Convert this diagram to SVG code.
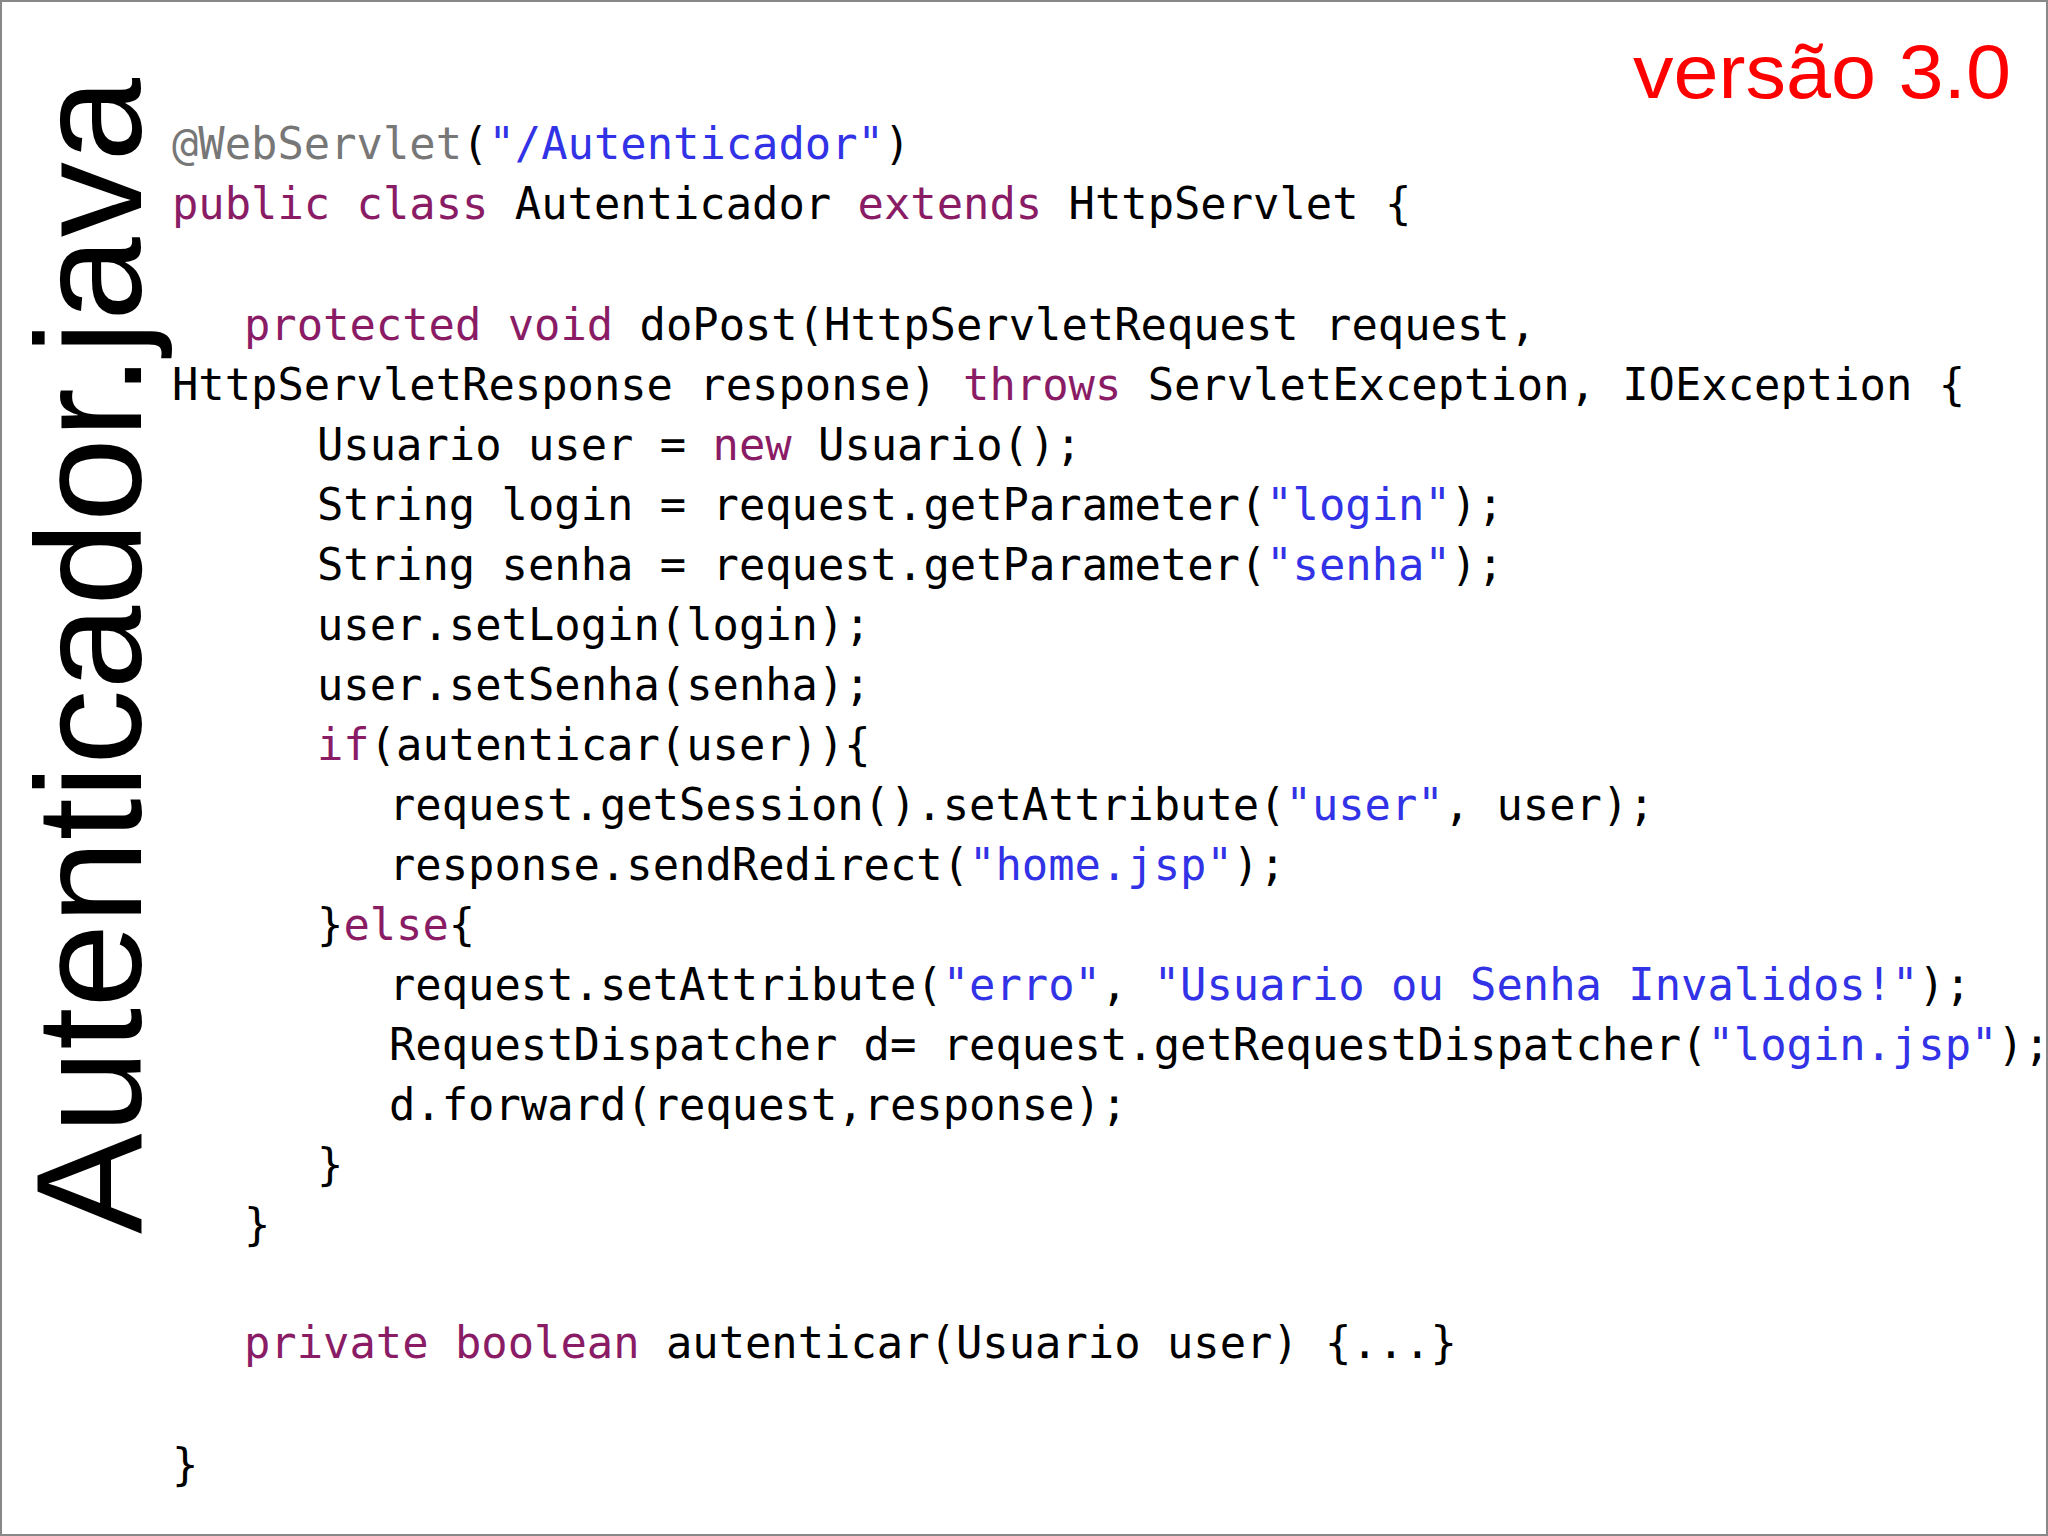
<svg xmlns="http://www.w3.org/2000/svg" width="2048" height="1536" viewBox="0 0 2048 1536">
<style>
.c{font-family:"DejaVu Sans Mono","Liberation Mono",monospace;font-size:43.8px;fill:#000}
.k{fill:#8a1c66}.s{fill:#3232e6}.a{fill:#777}
</style>
<rect x="1" y="1" width="2046" height="1534" fill="#fff" stroke="#888" stroke-width="2"/>
<text x="2011" y="98" font-family="Liberation Sans,sans-serif" font-size="76" fill="#f00" text-anchor="end" textLength="378" lengthAdjust="spacingAndGlyphs">versão 3.0</text>
<text transform="translate(141,1234) rotate(-90)" font-family="Liberation Sans,sans-serif" font-size="150" textLength="1156" lengthAdjust="spacingAndGlyphs">Autenticador.java</text>
<g id="code" class="c" xml:space="preserve">
<text x="172" y="159"><tspan class="a">@WebServlet</tspan>(<tspan class="s">"/Autenticador"</tspan>)</text>
<text x="172" y="219"><tspan class="k">public class</tspan> Autenticador <tspan class="k">extends</tspan> HttpServlet {</text>
<text x="244" y="340"><tspan class="k">protected void</tspan> doPost(HttpServletRequest request,</text>
<text x="172" y="400">HttpServletResponse response) <tspan class="k">throws</tspan> ServletException, IOException {</text>
<text x="317" y="460">Usuario user = <tspan class="k">new</tspan> Usuario();</text>
<text x="317" y="520">String login = request.getParameter(<tspan class="s">"login"</tspan>);</text>
<text x="317" y="580">String senha = request.getParameter(<tspan class="s">"senha"</tspan>);</text>
<text x="317" y="640">user.setLogin(login);</text>
<text x="317" y="700">user.setSenha(senha);</text>
<text x="317" y="760"><tspan class="k">if</tspan>(autenticar(user)){</text>
<text x="389" y="820">request.getSession().setAttribute(<tspan class="s">"user"</tspan>, user);</text>
<text x="389" y="880">response.sendRedirect(<tspan class="s">"home.jsp"</tspan>);</text>
<text x="317" y="940">}<tspan class="k">else</tspan>{</text>
<text x="389" y="1000">request.setAttribute(<tspan class="s">"erro"</tspan>, <tspan class="s">"Usuario ou Senha Invalidos!"</tspan>);</text>
<text x="389" y="1060">RequestDispatcher d= request.getRequestDispatcher(<tspan class="s">"login.jsp"</tspan>);</text>
<text x="389" y="1120">d.forward(request,response);</text>
<text x="317" y="1180">}</text>
<text x="244" y="1240">}</text>
<text x="244" y="1358"><tspan class="k">private boolean</tspan> autenticar(Usuario user) {...}</text>
<text x="172" y="1480">}</text>
</g>
</svg>
